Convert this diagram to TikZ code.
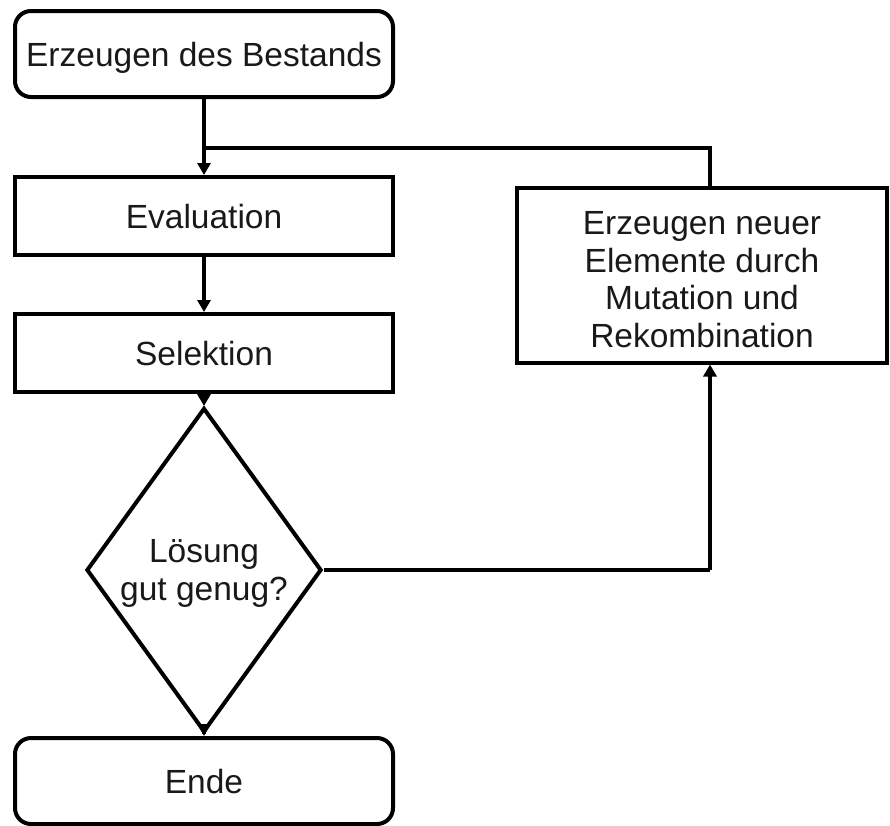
\documentclass[tikz,border=0pt]{standalone}
\usepackage{fontspec}
\setmainfont{Liberation Sans}
\usetikzlibrary{shapes.geometric,arrows.meta}
\begin{document}
\begin{tikzpicture}[x=1pt,y=-1pt,
  every node/.style={font=\fontsize{33.5}{37.5}\selectfont, text=black!90, text depth=0pt},
  rbox/.style={draw, line width=4pt, rounded corners=16pt, minimum width=378pt, minimum height=86pt},
  pbox/.style={draw, line width=4pt, minimum width=378pt, minimum height=78pt},
  decide/.style={draw, line width=4pt, diamond, shape aspect=0.725, minimum width=235pt, minimum height=324pt, inner sep=0pt},
  flow/.style={line width=4pt, -{Triangle[length=12pt,width=13pt]}},
  plain/.style={line width=4pt}]
\useasboundingbox (0,0) rectangle (890,825);
\node[rbox] (start) at (204,54) {Erzeugen des Bestands};
\node[pbox] (eval) at (204,216) {Evaluation};
\node[pbox] (sel) at (204,353) {Selektion};
\node[decide, align=center] (dec) at (204,570) {Lösung\\gut genug?};
\node[rbox] (end) at (204,781) {Ende};
% four-line text block; fixed text height/depth place it a little below the box centre
\node[pbox, minimum width=370pt, minimum height=175pt, text height=90pt, text depth=61pt] (gen) at (702,275)
  {\begin{tabular}{@{}c@{}}Erzeugen neuer\\Elemente durch\\Mutation und\\Rekombination\end{tabular}};
\coordinate (join) at (204,148);
\coordinate (corner) at (710,148);
\coordinate (low) at (710,570);
\draw[flow] (start.south) -- (eval.north);
\draw[plain] (join) -- (corner) -- (corner |- gen.north);
\draw[flow] (eval.south) -- (sel.north);
\draw[flow] (sel.south) -- (dec.north);
\draw[flow] (dec.south) -- (end.north);
\draw[plain] (dec.east) -- (low);
\draw[flow] (low) -- (low |- gen.south);
\end{tikzpicture}
\end{document}
